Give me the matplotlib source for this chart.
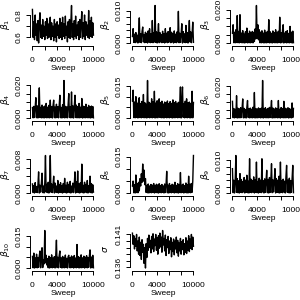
import numpy as np
import matplotlib.pyplot as plt

plt.rcParams['font.family'] = ['Liberation Sans', 'DejaVu Sans']

# trace values (thinned to 90 draws per chain)
beta1 = [0.85, 0.60, 0.74, 0.58, 0.80, 0.62, 0.72, 0.57, 0.75, 0.55,
         0.73, 0.82, 0.60, 0.71, 0.59, 0.76, 0.61, 0.70, 0.58, 0.74,
         0.62, 0.77, 0.59, 0.72, 0.60, 0.75, 0.78, 0.58, 0.73, 0.61,
         0.70, 0.57, 0.76, 0.60, 0.72, 0.56, 0.74, 0.62, 0.71, 0.59,
         0.77, 0.60, 0.73, 0.58, 0.78, 0.61, 0.72, 0.59, 0.79, 0.62,
         0.70, 0.56, 0.74, 0.60, 0.76, 0.59, 0.73, 0.885, 0.60, 0.72,
         0.58, 0.75, 0.61, 0.79, 0.59, 0.71, 0.62, 0.74, 0.58, 0.76,
         0.60, 0.72, 0.83, 0.59, 0.73, 0.61, 0.80, 0.58, 0.74, 0.62,
         0.71, 0.60, 0.84, 0.59, 0.75, 0.61, 0.78, 0.60, 0.73, 0.62]

beta2 = [0.0021, 0.0045, 0.0003, 0.0028, 0.0002, 0.0033, 0.0004, 0.0025, 0.0001, 0.0031,
         0.0078, 0.0003, 0.0029, 0.0002, 0.0036, 0.0050, 0.0004, 0.0027, 0.0002, 0.0034,
         0.0003, 0.0030, 0.0001, 0.0038, 0.0004, 0.0045, 0.0002, 0.0029, 0.0003, 0.0070,
         0.0002, 0.0032, 0.0004, 0.0116, 0.0003, 0.0035, 0.0001, 0.0028, 0.0060, 0.0002,
         0.0033, 0.0004, 0.0026, 0.0002, 0.0037, 0.0003, 0.0029, 0.0001, 0.0045, 0.0004,
         0.0031, 0.0002, 0.0036, 0.0003, 0.0027, 0.0048, 0.0002, 0.0034, 0.0004, 0.0030,
         0.0001, 0.0038, 0.0003, 0.0028, 0.0002, 0.0035, 0.0004, 0.0098, 0.0002, 0.0031,
         0.0003, 0.0027, 0.0060, 0.0001, 0.0036, 0.0004, 0.0029, 0.0002, 0.0055, 0.0003,
         0.0033, 0.0001, 0.0030, 0.0070, 0.0004, 0.0035, 0.0002, 0.0028, 0.0065, 0.0003]

beta3 = [0.0060, 0.0110, 0.0003, 0.0065, 0.0002, 0.0080, 0.0004, 0.0165, 0.0003, 0.0070,
         0.0002, 0.0170, 0.0005, 0.0060, 0.0002, 0.0075, 0.0003, 0.0055, 0.0001, 0.0068,
         0.0004, 0.0090, 0.0002, 0.0058, 0.0003, 0.0072, 0.0002, 0.0062, 0.0004, 0.0070,
         0.0002, 0.0065, 0.0010, 0.0085, 0.0025, 0.0225, 0.0030, 0.0110, 0.0020, 0.0080,
         0.0003, 0.0066, 0.0002, 0.0074, 0.0004, 0.0060, 0.0001, 0.0078, 0.0003, 0.0064,
         0.0002, 0.0070, 0.0004, 0.0140, 0.0002, 0.0068, 0.0003, 0.0059, 0.0001, 0.0073,
         0.0004, 0.0062, 0.0002, 0.0080, 0.0003, 0.0065, 0.0002, 0.0071, 0.0004, 0.0155,
         0.0002, 0.0063, 0.0003, 0.0076, 0.0110, 0.0001, 0.0060, 0.0004, 0.0069, 0.0002,
         0.0075, 0.0003, 0.0058, 0.0002, 0.0100, 0.0004, 0.0066, 0.0001, 0.0072, 0.0003]

beta4 = [0.0065, 0.0002, 0.0072, 0.0004, 0.0068, 0.0125, 0.0003, 0.0075, 0.0001, 0.0070,
         0.0185, 0.0004, 0.0066, 0.0002, 0.0080, 0.0003, 0.0069, 0.0001, 0.0074, 0.0004,
         0.0090, 0.0002, 0.0067, 0.0003, 0.0078, 0.0002, 0.0110, 0.0004, 0.0071, 0.0001,
         0.0076, 0.0110, 0.0003, 0.0068, 0.0002, 0.0085, 0.0004, 0.0070, 0.0002, 0.0077,
         0.0140, 0.0003, 0.0066, 0.0001, 0.0082, 0.0004, 0.0230, 0.0002, 0.0072, 0.0003,
         0.0069, 0.0002, 0.0079, 0.0150, 0.0004, 0.0070, 0.0002, 0.0160, 0.0003, 0.0075,
         0.0001, 0.0068, 0.0140, 0.0004, 0.0080, 0.0002, 0.0071, 0.0003, 0.0090, 0.0002,
         0.0067, 0.0004, 0.0120, 0.0001, 0.0073, 0.0003, 0.0070, 0.0002, 0.0085, 0.0004,
         0.0066, 0.0002, 0.0078, 0.0003, 0.0069, 0.0001, 0.0074, 0.0004, 0.0071, 0.0002]

beta5 = [0.0080, 0.0130, 0.0003, 0.0075, 0.0002, 0.0100, 0.0004, 0.0070, 0.0001, 0.0082,
         0.0095, 0.0003, 0.0068, 0.0002, 0.0078, 0.0004, 0.0110, 0.0002, 0.0072, 0.0003,
         0.0065, 0.0001, 0.0175, 0.0004, 0.0074, 0.0002, 0.0069, 0.0003, 0.0090, 0.0002,
         0.0076, 0.0004, 0.0125, 0.0001, 0.0070, 0.0003, 0.0081, 0.0002, 0.0067, 0.0090,
         0.0004, 0.0073, 0.0002, 0.0079, 0.0003, 0.0066, 0.0001, 0.0075, 0.0004, 0.0071,
         0.0002, 0.0080, 0.0003, 0.0068, 0.0002, 0.0077, 0.0004, 0.0069, 0.0001, 0.0085,
         0.0003, 0.0072, 0.0002, 0.0078, 0.0004, 0.0066, 0.0002, 0.0074, 0.0003, 0.0070,
         0.0145, 0.0001, 0.0076, 0.0145, 0.0004, 0.0068, 0.0002, 0.0079, 0.0003, 0.0090,
         0.0002, 0.0071, 0.0004, 0.0075, 0.0001, 0.0069, 0.0003, 0.0125, 0.0002, 0.0073]

beta6 = [0.0105, 0.0003, 0.0060, 0.0002, 0.0055, 0.0004, 0.0140, 0.0001, 0.0062, 0.0003,
         0.0058, 0.0002, 0.0065, 0.0004, 0.0057, 0.0120, 0.0002, 0.0061, 0.0003, 0.0054,
         0.0001, 0.0066, 0.0110, 0.0004, 0.0059, 0.0002, 0.0063, 0.0003, 0.0056, 0.0002,
         0.0068, 0.0004, 0.0160, 0.0001, 0.0060, 0.0003, 0.0057, 0.0002, 0.0064, 0.0004,
         0.0058, 0.0002, 0.0062, 0.0003, 0.0235, 0.0001, 0.0059, 0.0004, 0.0065, 0.0002,
         0.0056, 0.0003, 0.0061, 0.0002, 0.0067, 0.0004, 0.0058, 0.0110, 0.0001, 0.0063,
         0.0003, 0.0057, 0.0002, 0.0064, 0.0004, 0.0060, 0.0002, 0.0110, 0.0003, 0.0055,
         0.0001, 0.0066, 0.0004, 0.0059, 0.0002, 0.0105, 0.0003, 0.0062, 0.0002, 0.0058,
         0.0004, 0.0065, 0.0001, 0.0060, 0.0003, 0.0056, 0.0002, 0.0095, 0.0004, 0.0061]

beta7 = [0.0022, 0.0002, 0.0018, 0.0001, 0.0025, 0.0003, 0.0016, 0.0002, 0.0020, 0.0050,
         0.0001, 0.0019, 0.0003, 0.0023, 0.0047, 0.0002, 0.0017, 0.0001, 0.0024, 0.0088,
         0.0003, 0.0021, 0.0002, 0.0026, 0.0001, 0.0018, 0.0088, 0.0003, 0.0022, 0.0002,
         0.0019, 0.0040, 0.0001, 0.0024, 0.0003, 0.0017, 0.0002, 0.0030, 0.0001, 0.0020,
         0.0003, 0.0025, 0.0002, 0.0018, 0.0001, 0.0023, 0.0003, 0.0035, 0.0002, 0.0019,
         0.0001, 0.0026, 0.0003, 0.0021, 0.0002, 0.0028, 0.0001, 0.0017, 0.0003, 0.0024,
         0.0002, 0.0020, 0.0050, 0.0001, 0.0027, 0.0003, 0.0052, 0.0002, 0.0022, 0.0001,
         0.0025, 0.0003, 0.0068, 0.0002, 0.0019, 0.0001, 0.0026, 0.0003, 0.0021, 0.0002,
         0.0030, 0.0001, 0.0018, 0.0003, 0.0040, 0.0002, 0.0023, 0.0001, 0.0020, 0.0003]

beta8 = [0.0030, 0.0050, 0.0002, 0.0035, 0.0001, 0.0075, 0.0003, 0.0040, 0.0002, 0.0045,
         0.0010, 0.0060, 0.0030, 0.0080, 0.0045, 0.0120, 0.0050, 0.0095, 0.0035, 0.0060,
         0.0003, 0.0032, 0.0002, 0.0038, 0.0001, 0.0030, 0.0003, 0.0036, 0.0002, 0.0033,
         0.0004, 0.0040, 0.0001, 0.0031, 0.0003, 0.0037, 0.0002, 0.0034, 0.0001, 0.0039,
         0.0003, 0.0032, 0.0002, 0.0036, 0.0004, 0.0030, 0.0001, 0.0038, 0.0003, 0.0035,
         0.0090, 0.0002, 0.0033, 0.0001, 0.0040, 0.0003, 0.0031, 0.0002, 0.0037, 0.0004,
         0.0034, 0.0001, 0.0045, 0.0003, 0.0032, 0.0002, 0.0039, 0.0001, 0.0036, 0.0003,
         0.0085, 0.0002, 0.0033, 0.0004, 0.0038, 0.0001, 0.0031, 0.0003, 0.0042, 0.0002,
         0.0035, 0.0001, 0.0070, 0.0003, 0.0037, 0.0002, 0.0040, 0.0004, 0.0050, 0.0155]

beta9 = [0.0075, 0.0002, 0.0040, 0.0001, 0.0035, 0.0115, 0.0003, 0.0045, 0.0002, 0.0038,
         0.0001, 0.0060, 0.0003, 0.0042, 0.0002, 0.0036, 0.0004, 0.0048, 0.0001, 0.0040,
         0.0003, 0.0055, 0.0002, 0.0037, 0.0001, 0.0105, 0.0003, 0.0043, 0.0002, 0.0039,
         0.0004, 0.0050, 0.0001, 0.0041, 0.0003, 0.0095, 0.0002, 0.0036, 0.0001, 0.0046,
         0.0003, 0.0040, 0.0002, 0.0105, 0.0004, 0.0038, 0.0001, 0.0044, 0.0003, 0.0037,
         0.0070, 0.0002, 0.0042, 0.0001, 0.0048, 0.0003, 0.0039, 0.0090, 0.0002, 0.0041,
         0.0004, 0.0036, 0.0075, 0.0001, 0.0045, 0.0003, 0.0040, 0.0002, 0.0052, 0.0001,
         0.0095, 0.0003, 0.0038, 0.0002, 0.0043, 0.0004, 0.0037, 0.0001, 0.0049, 0.0085,
         0.0003, 0.0040, 0.0002, 0.0046, 0.0001, 0.0039, 0.0003, 0.0044, 0.0085, 0.0002]

beta10 = [0.0055, 0.0002, 0.0070, 0.0001, 0.0048, 0.0003, 0.0065, 0.0002, 0.0050, 0.0004,
          0.0058, 0.0080, 0.0002, 0.0052, 0.0095, 0.0003, 0.0040, 0.0020, 0.0175, 0.0025,
          0.0060, 0.0015, 0.0045, 0.0002, 0.0056, 0.0001, 0.0049, 0.0003, 0.0062, 0.0002,
          0.0047, 0.0004, 0.0054, 0.0001, 0.0060, 0.0130, 0.0003, 0.0051, 0.0002, 0.0058,
          0.0080, 0.0004, 0.0048, 0.0001, 0.0055, 0.0003, 0.0050, 0.0002, 0.0061, 0.0004,
          0.0046, 0.0001, 0.0053, 0.0060, 0.0003, 0.0049, 0.0002, 0.0057, 0.0004, 0.0052,
          0.0001, 0.0059, 0.0003, 0.0047, 0.0002, 0.0110, 0.0004, 0.0054, 0.0001, 0.0050,
          0.0003, 0.0062, 0.0002, 0.0048, 0.0004, 0.0056, 0.0001, 0.0051, 0.0003, 0.0058,
          0.0002, 0.0049, 0.0004, 0.0055, 0.0085, 0.0001, 0.0052, 0.0003, 0.0060, 0.0002]

sigma = [0.1412, 0.1395, 0.1408, 0.1388, 0.1404, 0.1392, 0.1410, 0.1385, 0.1400, 0.1380,
         0.1406, 0.1378, 0.1398, 0.1372, 0.1402, 0.1383, 0.1395, 0.1366, 0.1390, 0.1359,
         0.1396, 0.1375, 0.1404, 0.1386, 0.1409, 0.1390, 0.1401, 0.1382, 0.1407, 0.1388,
         0.1411, 0.1384, 0.1403, 0.1393, 0.1410, 0.1386, 0.1405, 0.1380, 0.1408, 0.1389,
         0.1412, 0.1391, 0.1406, 0.1383, 0.1416, 0.1394, 0.1404, 0.1385, 0.1409, 0.1378,
         0.1402, 0.1390, 0.1407, 0.1381, 0.1400, 0.1387, 0.1405, 0.1376, 0.1398, 0.1384,
         0.1403, 0.1379, 0.1400, 0.1388, 0.1406, 0.1382, 0.1401, 0.1377, 0.1397, 0.1385,
         0.1404, 0.1380, 0.1399, 0.1387, 0.1402, 0.1379, 0.1396, 0.1383, 0.1405, 0.1381,
         0.1400, 0.1386, 0.1408, 0.1384, 0.1403, 0.1389, 0.1410, 0.1387, 0.1406, 0.1392]

chains = [beta1, beta2, beta3, beta4, beta5, beta6, beta7, beta8, beta9, beta10, sigma]
ylabels = [r'$\beta_{%d}$' % i for i in range(1, 11)] + [r'$\sigma$']

# y ticks and which of them carry a label (R drops overlapping ones)
yticks = [[0.6, 0.7, 0.8],
          [0, 0.002, 0.004, 0.006, 0.008, 0.010],
          [0, 0.005, 0.010, 0.015, 0.020],
          [0, 0.005, 0.010, 0.015, 0.020],
          [0, 0.005, 0.010, 0.015],
          [0, 0.005, 0.010, 0.015, 0.020],
          [0, 0.002, 0.004, 0.006, 0.008],
          [0, 0.005, 0.010, 0.015],
          [0, 0.002, 0.004, 0.006, 0.008, 0.010],
          [0, 0.005, 0.010, 0.015],
          [0.136, 0.137, 0.138, 0.139, 0.140, 0.141]]
ylabs = [['0.6', '', '0.8'],
         ['0.000', '', '', '', '', '0.010'],
         ['0.000', '', '', '', '0.020'],
         ['0.000', '', '', '', '0.020'],
         ['0.000', '', '', '0.015'],
         ['0.000', '', '', '', '0.020'],
         ['0.000', '', '', '', '0.008'],
         ['0.000', '', '', '0.015'],
         ['0.000', '', '', '', '', '0.010'],
         ['0.000', '', '', '0.015'],
         ['0.136', '', '', '', '', '0.141']]

xticks = [0, 2000, 4000, 6000, 8000, 10000]
xlabs = ['0', '', '4000', '', '', '10000']

fs = 6.0
fig = plt.figure(figsize=(3, 3), dpi=100)

for k, chain in enumerate(chains):
    r, c = divmod(k, 3)
    cx, cy = 100 * c, 75 * r
    ax = fig.add_axes([(cx + 30.0) / 300, 1 - (cy + 44.5) / 300, 65.9 / 300, 40.5 / 300])
    sweep = np.linspace(0, 10000, len(chain))
    ax.plot(sweep, chain, color='black', lw=1.0)
    ax.margins(x=0.04, y=0.04)
    for s in ['top', 'right']:
        ax.spines[s].set_visible(False)
    ax.spines['bottom'].set_position(('outward', 1.1))
    ax.spines['bottom'].set_bounds(0, 10000)
    ax.spines['left'].set_bounds(yticks[k][0], yticks[k][-1])
    for s in ['left', 'bottom']:
        ax.spines[s].set_linewidth(0.7)
    ax.set_xticks(xticks, xlabs)
    ax.set_yticks(yticks[k], ylabs[k])
    ax.tick_params(length=2.6, width=0.7, labelsize=fs)
    ax.tick_params(axis='x', pad=5.2)
    ax.tick_params(axis='y', pad=2.5, labelrotation=90)
    for lab in ax.get_yticklabels():
        lab.set_va('center')
    ax.set_xlabel('Sweep', fontsize=fs)
    ax.xaxis.label.set_va('center')
    ax.xaxis.set_label_coords(0.5, -0.6)
    ax.set_ylabel(ylabels[k], fontsize=fs + 0.5)
    ax.yaxis.label.set_va('center')
    ax.yaxis.set_label_coords(-0.365, 0.5)

fig.savefig('out.png', dpi=100)
